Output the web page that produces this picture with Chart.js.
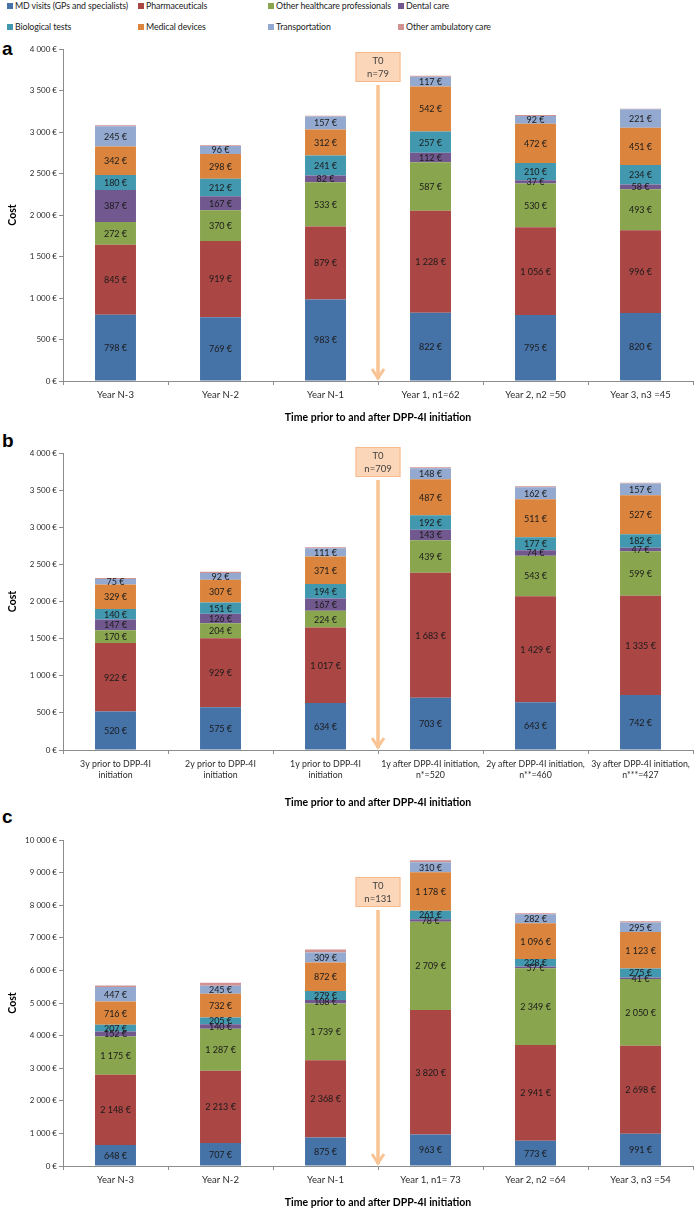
<!DOCTYPE html>
<html><head><meta charset="utf-8">
<script src="https://cdn.jsdelivr.net/npm/chart.js@4.4.1/dist/chart.umd.min.js"></script>
<style>
html,body{margin:0;padding:0;background:#fff;width:698px;height:1212px;overflow:hidden;font-family:Lato,sans-serif;}
.cv{position:absolute;left:0;}
.leg{position:absolute;font:8.8px Lato,sans-serif;letter-spacing:-0.1px;color:#222;white-space:nowrap;line-height:12px;}
.leg i{position:absolute;left:-8px;top:3px;width:6px;height:6px;}
.panel{position:absolute;left:2px;font:bold 19px Arial,'Liberation Sans',sans-serif;line-height:19px;color:#000;}
</style></head>
<body>
<div id="legend"></div>
<div class="panel" style="top:39px">a</div>
<div class="panel" style="top:431px">b</div>
<div class="panel" style="top:807px">c</div>
<canvas id="ca" class="cv" style="top:38px" width="698" height="387"></canvas>
<canvas id="cb" class="cv" style="top:425px" width="698" height="387"></canvas>
<canvas id="cc" class="cv" style="top:812px" width="698" height="400"></canvas>
<script>
// ---------- data ----------
const seriesNames = ['MD visits (GPs and specialists)','Pharmaceuticals','Other healthcare professionals','Dental care','Biological tests','Medical devices','Transportation','Other ambulatory care'];
const seriesColors = ['#4572A7','#AA4643','#89A54E','#71588F','#4198AF','#DB843D','#93A9CF','#D19392'];

const catsA = ['Year N-3','Year N-2','Year N-1','Year 1, n1=62','Year 2, n2 =50','Year 3, n3 =45'];
const mdA = [798,769,983,822,795,820];
const pharmA = [845,919,879,1228,1056,996];
const otherHcpA = [272,370,533,587,530,493];
const dentalA = [387,167,82,112,37,58];
const bioA = [180,212,241,257,210,234];
const devicesA = [342,298,312,542,472,451];
const transportA = [245,96,157,117,92,221];
const otherAmbA = [12,10,8,12,12,8];

const catsB = [['3y prior to DPP-4I','initiation'],['2y prior to DPP-4I','initiation'],['1y prior to DPP-4I','initiation'],['1y after DPP-4I initiation,','n*=520'],['2y after DPP-4I initiation,','n**=460'],['3y after DPP-4I initiation,','n***=427']];
const mdB = [520,575,634,703,643,742];
const pharmB = [922,929,1017,1683,1429,1335];
const otherHcpB = [170,204,224,439,543,599];
const dentalB = [147,126,167,143,74,47];
const bioB = [140,151,194,192,177,182];
const devicesB = [329,307,371,487,511,527];
const transportB = [75,92,111,148,162,157];
const otherAmbB = [15,15,12,12,14,12];

const catsC = ['Year N-3','Year N-2','Year N-1','Year 1, n1= 73','Year 2, n2 =64','Year 3, n3 =54'];
const mdC = [648,707,875,963,773,991];
const pharmC = [2148,2213,2368,3820,2941,2698];
const otherHcpC = [1175,1287,1739,2709,2349,2050];
const dentalC = [152,140,108,78,57,41];
const bioC = [207,205,279,261,228,275];
const devicesC = [716,732,872,1178,1096,1123];
const transportC = [447,245,309,310,282,295];
const otherAmbC = [40,90,90,60,30,35];

const yTicksMaxA = 4000, yStepA = 500;
const yTicksMaxB = 4000, yStepB = 500;
const yTicksMaxC = 10000, yStepC = 1000;
const t0TextA = ['T0','n=79'];
const t0TextB = ['T0','n=709'];
const t0TextC = ['T0','n=131'];
const xTitle = 'Time prior to and after DPP-4I initiation';
const yTitle = 'Cost';

// ---------- legend ----------
const legPos = [[15,0],[146,0],[276,0],[406,0],[15,21],[146,21],[276,21],[406,21]];
const legEl = document.getElementById('legend');
seriesNames.forEach((n,i)=>{
  const d = document.createElement('div');
  d.className='leg';
  d.style.left = legPos[i][0]+'px'; d.style.top = legPos[i][1]+'px';
  d.innerHTML = '<i style="background:'+seriesColors[i]+'"></i>'+n;
  legEl.appendChild(d);
});

// ---------- helpers ----------
function fmt(v){ return String(Math.round(v)).replace(/\B(?=(\d{3})+(?!\d))/g,' ')+' €'; }

const valueLabels = {
  id:'valueLabels',
  afterDatasetsDraw(chart){
    const ctx = chart.ctx;
    ctx.save();
    ctx.font = '9px Lato, sans-serif';
    ctx.fillStyle = '#1b1b1b';
    ctx.textAlign = 'center';
    ctx.textBaseline = 'middle';
    chart.data.datasets.forEach((ds,i)=>{
      if (ds.noLabel) return;
      const meta = chart.getDatasetMeta(i);
      meta.data.forEach((el,j)=>{
        const p = el.getProps(['x','y','base'], true);
        ctx.fillText(fmt(ds.data[j]), p.x, (p.y+p.base)/2 + 0.5);
      });
    });
    ctx.restore();
  }
};

const t0Marker = {
  id:'t0Marker',
  afterDatasetsDraw(chart, args, opts){
    if (!opts || !opts.text) return;
    const xs = chart.scales.x, ys = chart.scales.y;
    const cx = (xs.getPixelForValue(2) + xs.getPixelForValue(3))/2;
    const ctx = chart.ctx;
    const w = 45, h = 30;
    const top = chart.chartArea.top + opts.boxOffset;
    const bottomY = ys.getPixelForValue(0);
    ctx.save();
    ctx.strokeStyle = '#F9C393';
    ctx.lineWidth = 3.5;
    ctx.lineCap = 'butt';
    ctx.beginPath();
    ctx.moveTo(cx, top+h+3);
    ctx.lineTo(cx, bottomY-2);
    ctx.stroke();
    ctx.lineWidth = 3;
    ctx.lineJoin = 'miter';
    ctx.beginPath();
    ctx.moveTo(cx-6, bottomY-12);
    ctx.lineTo(cx, bottomY-3);
    ctx.lineTo(cx+6, bottomY-12);
    ctx.stroke();
    ctx.fillStyle = '#FCD6B8';
    ctx.strokeStyle = '#F7B98C';
    ctx.lineWidth = 1;
    ctx.fillRect(cx-w/2, top, w, h);
    ctx.strokeRect(cx-w/2+0.5, top+0.5, w-1, h-1);
    ctx.fillStyle = '#404040';
    ctx.font = '9.5px Lato, sans-serif';
    ctx.textAlign='center'; ctx.textBaseline='middle';
    ctx.fillText(opts.text[0], cx, top+9);
    ctx.fillText(opts.text[1], cx, top+22);
    ctx.restore();
  }
};

function makeChart(id, cats, series, cfg){
  const datasets = series.map((arr,i)=>({
    label: seriesNames[i], data: arr, backgroundColor: seriesColors[i],
    borderWidth: 0, barPercentage: 0.39, categoryPercentage: 1.0,
    noLabel: i === 7
  }));
  return new Chart(document.getElementById(id), {
    type:'bar',
    data:{ labels: cats, datasets },
    plugins:[valueLabels, t0Marker],
    options:{
      responsive:false, animation:false, devicePixelRatio:1,
      layout:{ padding:{ top: cfg.padTop, right:5, left:0, bottom:0 } },
      plugins:{ legend:{display:false}, tooltip:{enabled:false},
        t0Marker:{ text: cfg.t0, boxOffset: cfg.boxOffset } },
      scales:{
        x:{ stacked:true, offset:true,
          grid:{ display:true, drawOnChartArea:false, drawTicks:true, tickLength:4, color:'#8C8C8C', offset:true },
          border:{ display:true, color:'#8C8C8C' },
          ticks:{ font:{ family:'Lato', size:cfg.tickSize, lineHeight:1.3 }, color:'#2a2a2a', padding:4, maxRotation:0, minRotation:0, autoSkip:false },
          title:{ display:true, text:xTitle, color:'#000', font:{ family:'Lato', size:10.5, weight:'bold' }, padding:{ top:0, bottom: cfg.titlePad } },
          afterFit(s){ s.height = cfg.xHeight; }
        },
        y:{ stacked:true, min:0, max:cfg.max,
          grid:{ drawOnChartArea:false, drawTicks:true, tickLength:4, color:'#8C8C8C' },
          border:{ display:true, color:'#8C8C8C' },
          ticks:{ stepSize:cfg.step, callback:(v)=>fmt(v), font:{ family:'Lato', size:8 }, color:'#2a2a2a', padding:2 },
          title:{ display:true, text:yTitle, color:'#000', font:{ family:'Lato', size:10.5, weight:'bold' }, padding:{ top:6, bottom:0 } },
          afterFit(s){ s.width = 63; }
        }
      }
    }
  });
}

makeChart('ca', catsA, [mdA,pharmA,otherHcpA,dentalA,bioA,devicesA,transportA,otherAmbA],
  { max:yTicksMaxA, step:yStepA, padTop:11, xHeight:44, titlePad:1, t0:t0TextA, boxOffset:3, tickSize:9.5 });
makeChart('cb', catsB, [mdB,pharmB,otherHcpB,dentalB,bioB,devicesB,transportB,otherAmbB],
  { max:yTicksMaxB, step:yStepB, padTop:28, xHeight:62, titlePad:3, t0:t0TextB, boxOffset:-6, tickSize:8.8 });
makeChart('cc', catsC, [mdC,pharmC,otherHcpC,dentalC,bioC,devicesC,transportC,otherAmbC],
  { max:yTicksMaxC, step:yStepC, padTop:28, xHeight:46, titlePad:3, t0:t0TextC, boxOffset:37, tickSize:9.5 });
</script>
</body></html>
